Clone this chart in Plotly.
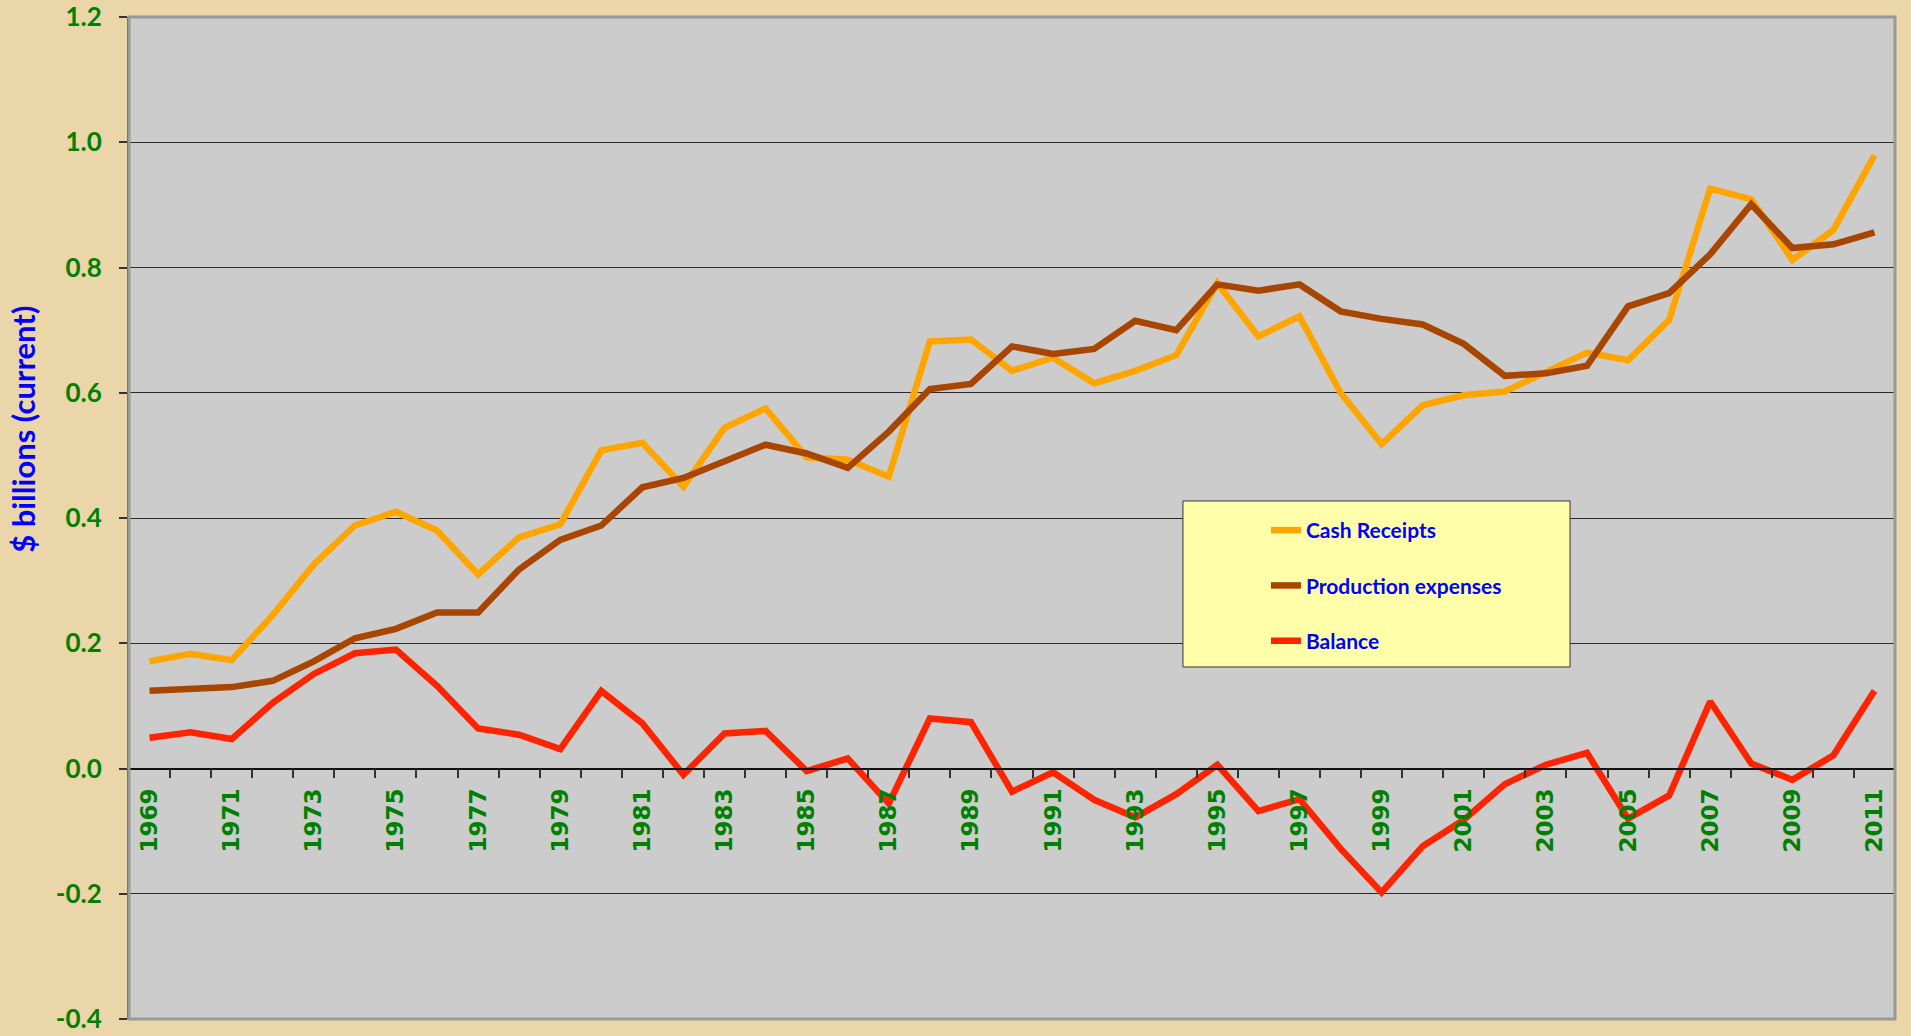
import plotly.graph_objects as go

years = list(range(1969, 2012))
cash_receipts = [0.171, 0.183, 0.173, 0.245, 0.326, 0.388, 0.410, 0.380, 0.310, 0.369,
                 0.390, 0.508, 0.520, 0.450, 0.544, 0.575, 0.497, 0.493, 0.466, 0.682,
                 0.685, 0.635, 0.656, 0.615, 0.635, 0.660, 0.775, 0.690, 0.722, 0.600,
                 0.518, 0.580, 0.596, 0.602, 0.633, 0.664, 0.652, 0.716, 0.926, 0.909,
                 0.812, 0.860, 0.979]
production_expenses = [0.124, 0.128, 0.130, 0.140, 0.171, 0.208, 0.223, 0.249, 0.249, 0.318,
                       0.365, 0.388, 0.449, 0.464, 0.491, 0.517, 0.503, 0.480, 0.538, 0.606,
                       0.614, 0.674, 0.662, 0.670, 0.715, 0.700, 0.773, 0.763, 0.773, 0.730,
                       0.718, 0.709, 0.678, 0.627, 0.631, 0.643, 0.738, 0.759, 0.821, 0.901,
                       0.831, 0.837, 0.856]
balance = [0.049, 0.058, 0.047, 0.105, 0.151, 0.184, 0.190, 0.132, 0.064, 0.054,
           0.031, 0.124, 0.072, -0.010, 0.056, 0.060, -0.004, 0.016, -0.056, 0.080,
           0.074, -0.037, -0.006, -0.050, -0.078, -0.041, 0.006, -0.068, -0.049, -0.128,
           -0.198, -0.124, -0.082, -0.025, 0.006, 0.025, -0.080, -0.043, 0.107, 0.008,
           -0.018, 0.021, 0.124]
tick_years = years[::2]
y_ticks = [-0.4, -0.2, 0.0, 0.2, 0.4, 0.6, 0.8, 1.0, 1.2]
y_tick_labels = ["-0.4", "-0.2", "0.0", "0.2", "0.4", "0.6", "0.8", "1.0", "1.2"]

series = [
    ("Cash Receipts", cash_receipts, "#FFA500"),
    ("Production expenses", production_expenses, "#A84600"),
    ("Balance", balance, "#FF2400"),
]

fig = go.Figure()
for i, (name, vals, color) in enumerate(series):
    fig.add_trace(go.Scatter(
        x=years, y=vals, name=name, mode="lines",
        line=dict(color=color, width=6.5),
        legendgroup=f"g{i}",
    ))

green = "#008000"
paper = "#EBD6A9"
fig.update_layout(
    width=1911, height=1036,
    paper_bgcolor=paper,
    plot_bgcolor="#CCCCCC",
    margin=dict(l=129, r=16, t=17, b=17, autoexpand=False),
    showlegend=True,
    legend=dict(
        x=0.6438, y=0.508, xanchor="left", yanchor="top",
        bgcolor="rgba(0,0,0,0)", borderwidth=0,
        traceorder="grouped", tracegroupgap=25,
        font=dict(family="Lato", size=21, color="#0000FF", weight="bold"),
    ),
    xaxis=dict(
        type="linear", range=[1968.5, 2011.5], automargin=False,
        tickmode="array", tickvals=tick_years, ticktext=[str(y) for y in tick_years],
        tickangle=-90, ticks="",
        tickfont=dict(family="DejaVu Sans", size=23, color=green, weight="bold"),
        anchor="free", position=0.25,
        showline=True, linecolor="#111111", linewidth=1.5,
        showgrid=False, zeroline=False,
        ticklabelstandoff=10,
        minor=dict(tick0=1968.5, dtick=1, ticks="outside", ticklen=9,
                   tickcolor="#333333", tickwidth=1.5, showgrid=False),
    ),
    yaxis=dict(
        range=[-0.40001, 1.20001], automargin=False,
        tickmode="array", tickvals=y_ticks, ticktext=y_tick_labels,
        tickfont=dict(family="Lato", size=26, color=green, weight="bold"),
        ticklabeloverflow="allow",
        ticks="outside", ticklen=8, tickcolor="#333333", tickwidth=1.5,
        showline=True, linecolor="#555555", linewidth=2,
        showgrid=True, gridcolor="#2A2A2A", gridwidth=1.2,
        zeroline=False, ticklabelstandoff=12,
    ),
    shapes=[
        dict(type="rect", xref="paper", yref="paper", x0=0, x1=1, y0=0, y1=1,
             line=dict(color="#999999", width=3), layer="above"),
        dict(type="rect", xref="paper", yref="paper",
             x0=0.5968, x1=0.816, y0=0.3513, y1=0.517,
             fillcolor="#FFFFAA", line=dict(color="#333333", width=1), layer="above"),
    ],
    annotations=[
        dict(text="$ billions (current)", xref="paper", yref="paper",
             x=-0.060, y=0.588, xanchor="center", yanchor="middle",
             textangle=-90, showarrow=False,
             font=dict(family="Lato", size=31, color="#0000FF", weight="bold")),
    ],
)

fig.write_html(
    "out.html",
    config={"displayModeBar": False},
    post_script=f"document.body.style.margin='0';document.body.style.background='{paper}';",
)
